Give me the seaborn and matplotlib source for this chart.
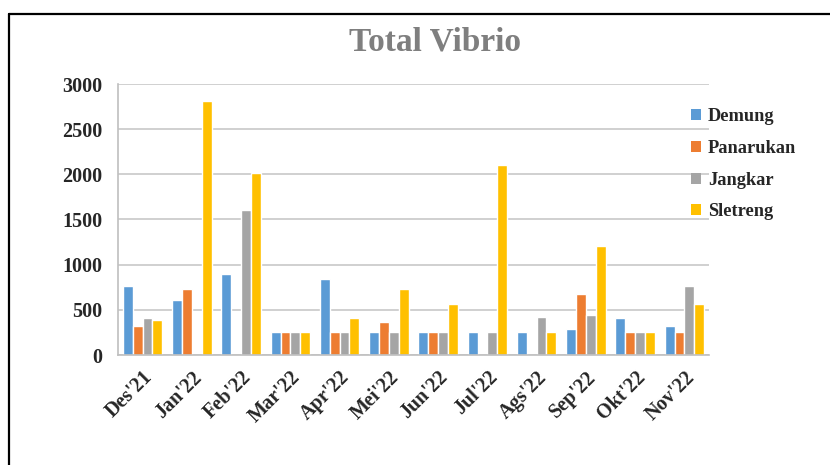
import matplotlib
matplotlib.use("Agg")
import matplotlib.pyplot as plt
import seaborn as sns
import pandas as pd
from matplotlib.lines import Line2D
from matplotlib.patches import Patch

months = ["Des'21", "Jan'22", "Feb'22", "Mar'22", "Apr'22", "Mei'22",
          "Jun'22", "Jul'22", "Ags'22", "Sep'22", "Okt'22", "Nov'22"]
demung = [765, 606, 900, 250, 840, 250, 250, 250, 250, 290, 410, 320]
panarukan = [326, 728, 0, 250, 250, 360, 250, 0, 0, 680, 250, 250]
jangkar = [410, 0, 1600, 250, 250, 250, 250, 250, 420, 440, 250, 765]
sletreng = [388, 2810, 2020, 250, 410, 730, 570, 2100, 250, 1210, 250, 570]
series_names = ["Demung", "Panarukan", "Jangkar", "Sletreng"]
colors = ["#5b9bd5", "#ed7d31", "#a5a5a5", "#ffc000"]
yticks = [0, 500, 1000, 1500, 2000, 2500, 3000]

rows = []
for name, vals in zip(series_names, [demung, panarukan, jangkar, sletreng]):
    for m, v in zip(months, vals):
        rows.append({"month": m, "site": name, "value": v})
df = pd.DataFrame(rows)

sns.set_theme(style="white")
plt.rcParams["font.family"] = ["Liberation Serif", "DejaVu Serif"]

fig = plt.figure(figsize=(8.3, 4.65), dpi=100)
ax = fig.add_axes([118/830, 1-355/465, (709-118)/830, (355-84)/465])

sns.barplot(data=df, x="month", y="value", hue="site", order=months,
            hue_order=series_names, palette=colors, width=0.8,
            saturation=1, ax=ax, legend=False)

ax.set_ylim(0, 3000)
ax.set_yticks(yticks)
ax.set_yticklabels([str(t) for t in yticks], fontsize=14.5, fontweight="bold")
ax.set_xlim(-0.5, len(months) - 0.5)
ax.set_xticks(range(len(months)))
ax.set_xticklabels(months, rotation=45, ha="right", rotation_mode="anchor",
                   fontsize=14.5, fontweight="bold")
ax.tick_params(axis="y", length=0, pad=11)
ax.tick_params(axis="x", length=0, pad=9)
ax.set_xlabel("")
ax.set_ylabel("")
ax.yaxis.grid(True, color="#c8c8c8", linewidth=1.2)
ax.set_axisbelow(True)
for s in ["top", "right"]:
    ax.spines[s].set_visible(False)
ax.spines["left"].set_color("#bfbfbf")
ax.spines["bottom"].set_color("#bfbfbf")
ax.spines["left"].set_linewidth(1.2)
ax.spines["bottom"].set_linewidth(1.2)

handles = [Patch(facecolor=c, edgecolor="none") for c in colors]
fig.legend(handles, series_names, loc="upper left",
           bbox_to_anchor=(684/830, 1-101/465), frameon=False,
           prop={"family": "Liberation Serif", "weight": "bold", "size": 13.2},
           handlelength=0.55, handleheight=0.55, handletextpad=0.35,
           labelspacing=0.8, borderaxespad=0)

fig.text(435/830, 1-42/465, "Total Vibrio", ha="center", va="center",
         fontsize=24, fontweight="bold", color="#7f7f7f",
         family="Liberation Serif")

# outer frame (left and top visible)
fig.add_artist(Line2D([8.5/830, 8.5/830], [0, 1-14.5/465],
                      transform=fig.transFigure, color="black", linewidth=1.6))
fig.add_artist(Line2D([8.5/830, 1], [1-14.5/465, 1-14.5/465],
                      transform=fig.transFigure, color="black", linewidth=1.6))

fig.savefig("out.png", dpi=100, facecolor="white")
